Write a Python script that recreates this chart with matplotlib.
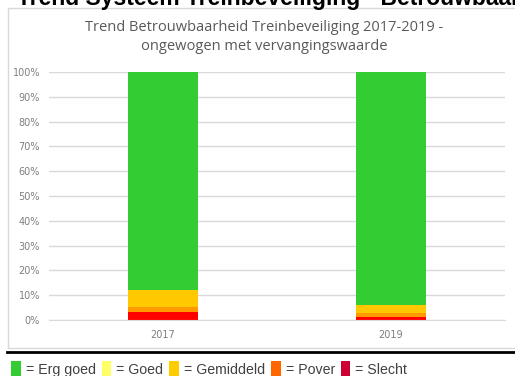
import matplotlib.pyplot as plt
from matplotlib.patches import Patch, Rectangle
from matplotlib.lines import Line2D
from matplotlib.ticker import PercentFormatter

jaren = ["2017", "2019"]
# aandelen per klasse (%)
slecht = [3.1, 1.3]
pover = [2.0, 1.4]
gemiddeld = [7.0, 3.3]
goed = [0.0, 0.0]
erg_goed = [87.9, 94.0]

klassen = ["Slecht", "Pover", "Gemiddeld", "Goed", "Erg goed"]
reeksen = [slecht, pover, gemiddeld, goed, erg_goed]
bar_kleuren = ["#FF0000", "#FF9900", "#FFC800", "#FFFF66", "#33CC33"]

legenda_labels = ["Erg goed", "Goed", "Gemiddeld", "Pover", "Slecht"]
legenda_kleuren = ["#33CC33", "#FFFF66", "#FFCC00", "#FF6600", "#CC0033"]

W, H = 515, 376
fig = plt.figure(figsize=(W / 100, H / 100), dpi=100)

# kader rond de grafiek
fig.patches.append(Rectangle((7.5 / W, 1 - 348 / H), 1.0, (348 - 8) / H,
                             transform=fig.transFigure, fill=False,
                             edgecolor="#D9D9D9", linewidth=1.0))
fig.lines.append(Line2D([7 / W, 1.0], [1 - 352 / H, 1 - 352 / H],
                        transform=fig.transFigure, color="black", linewidth=2.0))

# afgesneden koptekst bovenaan
fig.text(17 / W, 1 - 5 / H, "Trend Systeem Treinbeveiliging - Betrouwbaarheid",
         fontsize=16.5, fontweight="bold", family="Liberation Sans",
         ha="left", va="baseline", color="black")

fig.text(264 / W, 1 - 37 / H,
         "Trend Betrouwbaarheid Treinbeveiliging 2017-2019 -\nongewogen met vervangingswaarde",
         fontsize=10.5, family="Open Sans", color="#595959",
         ha="center", va="center", linespacing=1.45)

ax = fig.add_axes([49 / W, 1 - 320 / H, (505 - 49) / W, (320 - 72) / H])
x = range(len(jaren))
onder = [0.0] * len(jaren)
for naam, waarden, kleur in zip(klassen, reeksen, bar_kleuren):
    ax.bar(x, waarden, bottom=onder, width=0.31, color=kleur, label=naam)
    onder = [o + w for o, w in zip(onder, waarden)]

ax.set_xlim(-0.5, 1.5)
ax.set_ylim(0, 100)
ax.set_yticks(range(0, 101, 10))
ax.yaxis.set_major_formatter(PercentFormatter(decimals=0))
ax.set_xticks(list(x))
ax.set_xticklabels(jaren)
ax.grid(axis="y", color="#D9D9D9", linewidth=1.0)
ax.set_axisbelow(True)
for s in ax.spines.values():
    s.set_visible(False)
ax.spines["bottom"].set_visible(True)
ax.spines["bottom"].set_color("#D9D9D9")
ax.tick_params(length=0, labelsize=7, labelcolor="#7F7F7F")
ax.tick_params(axis="y", pad=6.5)
ax.tick_params(axis="x", pad=7)

handles = [Patch(facecolor=k) for k in legenda_kleuren]
fig.legend(handles, ["= " + l for l in legenda_labels], ncol=5,
           loc="center left", bbox_to_anchor=(11 / W, 1 - 369 / H),
           frameon=False, handlelength=0.7, handleheight=1.3,
           handletextpad=0.35, columnspacing=0.4,
           prop={"family": "Liberation Sans", "size": 10.2},
           labelcolor="#404040", borderpad=0, borderaxespad=0)

fig.savefig("out.png", dpi=100)
